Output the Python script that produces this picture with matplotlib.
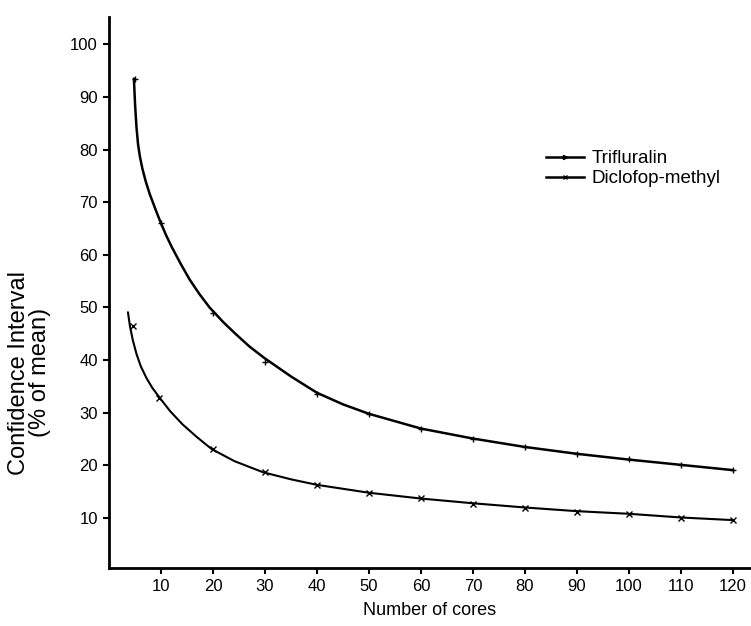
import matplotlib
matplotlib.use("Agg")
import matplotlib.pyplot as plt
from matplotlib.lines import Line2D

plt.rcParams['font.family'] = ['Liberation Sans', 'DejaVu Sans']

# measured points (markers)
cores = [5, 10, 20, 30, 40, 50, 60, 70, 80, 90, 100, 110, 120]
trifluralin = [93.5, 66, 49, 39.6, 33.5, 29.7, 26.9, 25, 23.5, 22.1, 21.2, 20.1, 19.1]
diclofop_x = [4.7, 9.6, 20, 30, 40, 50, 60, 70, 80, 90, 100, 110, 120]
diclofop = [46.4, 32.8, 23.1, 18.7, 16.3, 14.7, 13.8, 12.7, 11.9, 11.1, 10.8, 10.0, 9.6]

# fitted curves
tri_curve_x = [4.79, 5.02, 5.29, 5.59, 5.94, 6.42, 7.05, 7.82, 9.0, 10.0, 11.0, 12.07, 13.79, 15.52,
               17.43, 19.35, 22.0, 24.33, 27.0, 29.89, 35, 40, 45, 50, 60, 70, 80, 90, 100, 110, 120]
tri_curve_y = [93.5, 88.5, 84.2, 81.0, 78.7, 76.4, 74.0, 71.6, 68.5, 66.0, 63.7, 61.5, 58.3, 55.3,
               52.5, 50.0, 47.2, 45.0, 42.6, 40.4, 36.9, 33.8, 31.6, 29.8, 27, 25.1, 23.5, 22.2, 21.1, 20.1, 19.1]
dic_curve_x = [3.64, 4.04, 4.58, 5.31, 6.13, 7.2, 8.35, 9.79, 11.76, 14.14, 16.88, 19.75, 24.14,
               29.62, 35, 40, 50, 60, 70, 80, 90, 100, 110, 120]
dic_curve_y = [49.1, 46.4, 43.8, 41.1, 38.8, 36.6, 34.7, 32.8, 30.3, 27.8, 25.4, 23.1, 20.8,
               18.7, 17.35, 16.3, 14.8, 13.7, 12.8, 12, 11.3, 10.8, 10.1, 9.6]

xticks = [10, 20, 30, 40, 50, 60, 70, 80, 90, 100, 110, 120]
yticks = [10, 20, 30, 40, 50, 60, 70, 80, 90, 100]

fig = plt.figure(figsize=(7.51, 6.26), dpi=100)
ax = fig.add_axes([109/751, 1-568/626, 1-109/751, (568-17)/626])

ax.plot(tri_curve_x, tri_curve_y, color='black', lw=1.8, solid_capstyle='round', solid_joinstyle='round')
ax.plot(dic_curve_x, dic_curve_y, color='black', lw=1.5, solid_capstyle='round', solid_joinstyle='round')
ax.plot(cores, trifluralin, ls='none', marker='+', ms=5, mew=1.0, color='black')
ax.plot(diclofop_x, diclofop, ls='none', marker='x', ms=4, mew=1.0, color='black')

ax.set_xlim(0, 123.5)
ax.set_ylim(0.5, 105.2)
ax.set_xticks(xticks)
ax.set_yticks(yticks)
ax.tick_params(axis='both', direction='out', length=4, width=1.5, labelsize=12, colors='black', pad=4)
for s in ['top', 'right']:
    ax.spines[s].set_visible(False)
for s in ['left', 'bottom']:
    ax.spines[s].set_linewidth(2)

ax.set_xlabel('Number of cores', fontsize=13, labelpad=6)
fig.text(19/751, 1-373/626, 'Confidence Interval', rotation=90,
         ha='center', va='center', fontsize=17)
fig.text(40/751, 1-372/626, '(% of mean)', rotation=90,
         ha='center', va='center', fontsize=17)

handles = [
    Line2D([], [], color='black', lw=1.8, marker='>', ms=3, markevery=[1]),
    Line2D([], [], color='black', lw=1.8, marker='x', ms=3),
]
ax.legend(handles, ['Trifluralin', 'Diclofop-methyl'], loc='upper left',
          bbox_to_anchor=(546/751, 1-150/626), bbox_transform=fig.transFigure,
          frameon=False, fontsize=13.5, handlelength=2.0, handletextpad=0.45,
          borderpad=0, borderaxespad=0, labelspacing=0.15)

fig.savefig('out.png', dpi=100)
